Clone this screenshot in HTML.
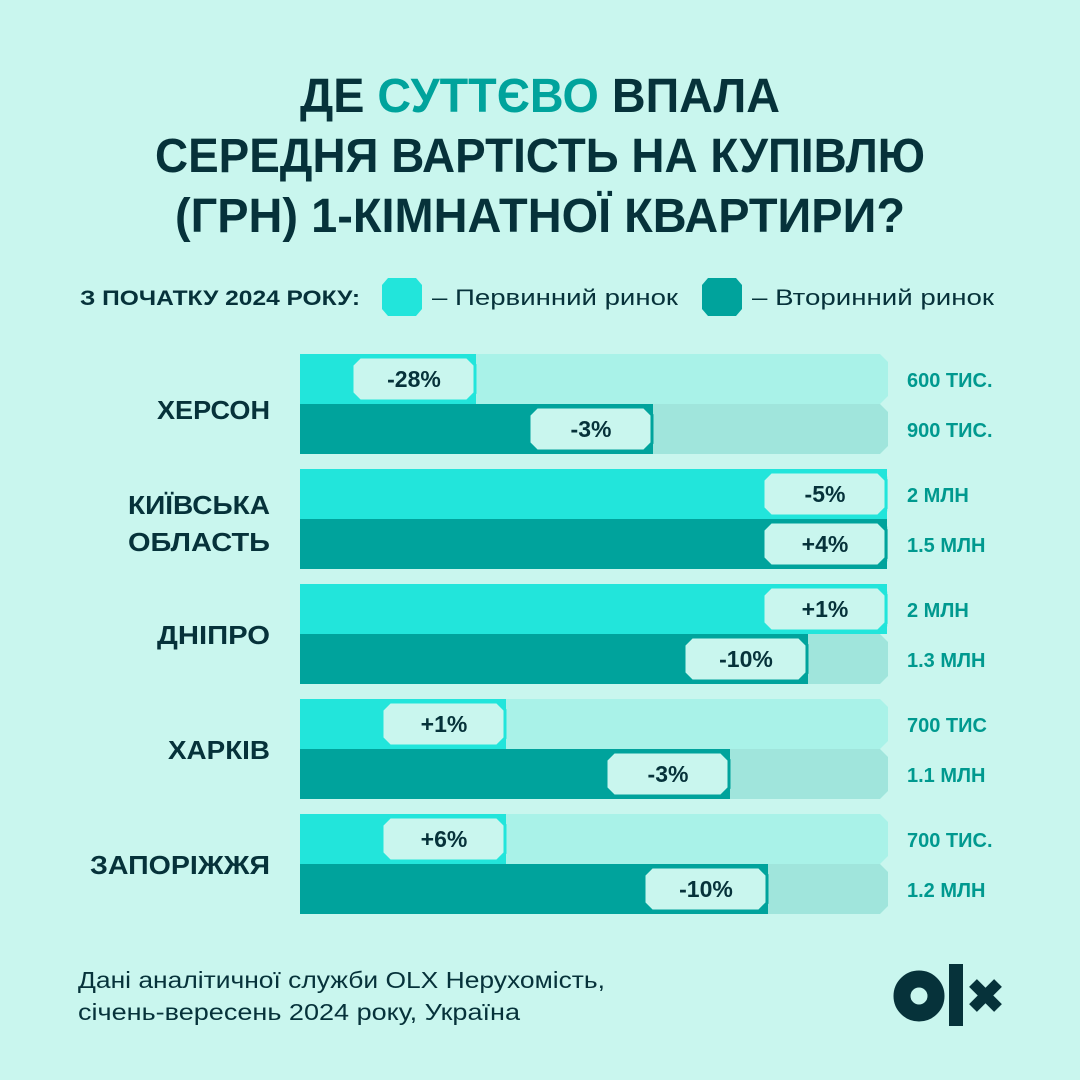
<!DOCTYPE html>
<html><head><meta charset="utf-8"><style>
html,body{margin:0;padding:0;background:#c9f6ee}
svg{display:block}
text{font-family:"Liberation Sans",sans-serif}
</style></head><body>
<svg width="1080" height="1080" viewBox="0 0 1080 1080">
<rect width="1080" height="1080" fill="#c9f6ee"/>
<g font-weight="bold" font-size="48" fill="#06323a" text-anchor="middle">
<text x="540" y="112" textLength="480" lengthAdjust="spacingAndGlyphs">ДЕ <tspan fill="#00a39c">СУТТЄВО</tspan> ВПАЛА</text>
<text x="540" y="172" textLength="770" lengthAdjust="spacingAndGlyphs">СЕРЕДНЯ ВАРТІСТЬ НА КУПІВЛЮ</text>
<text x="540" y="232" textLength="730" lengthAdjust="spacingAndGlyphs">(ГРН) 1-КІМНАТНОЇ КВАРТИРИ?</text>
</g>
<text x="80" y="305" font-size="21" font-weight="bold" fill="#06323a" textLength="280" lengthAdjust="spacingAndGlyphs">З ПОЧАТКУ 2024 РОКУ:</text>
<polygon points="388,278 416,278 422,285 422,309 416,316 388,316 382,309 382,285" fill="#22e5db"/>
<text x="432" y="305" font-size="22" fill="#06323a" textLength="246" lengthAdjust="spacingAndGlyphs">–  Первинний ринок</text>
<polygon points="708,278 736,278 742,285 742,309 736,316 708,316 702,309 702,285" fill="#00a39c"/>
<text x="752" y="305" font-size="22" fill="#06323a" textLength="242" lengthAdjust="spacingAndGlyphs">–  Вторинний ринок</text>

<g id="bars"></g>
<g font-size="26" font-weight="bold" fill="#06323a" text-anchor="end">
<text x="270" y="419" textLength="113" lengthAdjust="spacingAndGlyphs">ХЕРСОН</text>
<text x="270" y="514" textLength="142" lengthAdjust="spacingAndGlyphs">КИЇВСЬКА</text>
<text x="270" y="551" textLength="142" lengthAdjust="spacingAndGlyphs">ОБЛАСТЬ</text>
<text x="270" y="644" textLength="113" lengthAdjust="spacingAndGlyphs">ДНІПРО</text>
<text x="270" y="759" textLength="102" lengthAdjust="spacingAndGlyphs">ХАРКІВ</text>
<text x="270" y="874" textLength="180" lengthAdjust="spacingAndGlyphs">ЗАПОРІЖЖЯ</text>
</g>
<g font-size="20" font-weight="bold" fill="#00998f">
<text x="907" y="387">600 ТИС.</text>
<text x="907" y="437">900 ТИС.</text>
<text x="907" y="502">2 МЛН</text>
<text x="907" y="552">1.5 МЛН</text>
<text x="907" y="617">2 МЛН</text>
<text x="907" y="667">1.3 МЛН</text>
<text x="907" y="732">700 ТИС</text>
<text x="907" y="782">1.1 МЛН</text>
<text x="907" y="847">700 ТИС.</text>
<text x="907" y="897">1.2 МЛН</text>
</g>
<g font-size="23" fill="#06323a">
<text x="78" y="988" textLength="527" lengthAdjust="spacingAndGlyphs">Дані аналітичної служби OLX Нерухомість,</text>
<text x="78" y="1020" textLength="442" lengthAdjust="spacingAndGlyphs">січень-вересень 2024 року, Україна</text>
</g>
<circle cx="919" cy="996" r="17" fill="none" stroke="#06323a" stroke-width="17"/>
<rect x="949" y="964" width="14" height="62" fill="#06323a"/>
<path d="M973 983 L998 1008 M998 983 L973 1008" stroke="#06323a" stroke-width="11"/>
</svg>
<script>
var rows=[
[354,476,'-28%',0],[404,653,'-3%',1],
[469,887,'-5%',0],[519,887,'+4%',1],
[584,887,'+1%',0],[634,808,'-10%',1],
[699,506,'+1%',0],[749,730,'-3%',1],
[814,506,'+6%',0],[864,768,'-10%',1]];
var s='';
rows.forEach(function(r){
 var y=r[0],e=r[1],sec=r[3];
 var fill=sec?'#00a39c':'#22e5db',track=sec?'#a0e5dc':'#a9f2e8';
 s+='<polygon points="300,'+y+' 880,'+y+' 888,'+(y+8)+' 888,'+(y+42)+' 880,'+(y+50)+' 300,'+(y+50)+'" fill="'+track+'"/>';
 s+='<rect x="300" y="'+y+'" width="'+(e-300)+'" height="50" fill="'+fill+'"/>';
 var x1=e-124,x2=e-1,t=y+3,b=y+47,c=8;
 s+='<polygon points="'+(x1+c)+','+t+' '+(x2-c)+','+t+' '+x2+','+(t+c)+' '+x2+','+(b-c)+' '+(x2-c)+','+b+' '+(x1+c)+','+b+' '+x1+','+(b-c)+' '+x1+','+(t+c)+'" fill="#c9f6ee" stroke="'+fill+'" stroke-width="3"/>';
 s+='<text x="'+(e-62)+'" y="'+(y+33)+'" text-anchor="middle" font-size="23" font-weight="bold" fill="#06323a">'+r[2]+'</text>';
});
document.getElementById('bars').innerHTML=s;
</script>
</body></html>
